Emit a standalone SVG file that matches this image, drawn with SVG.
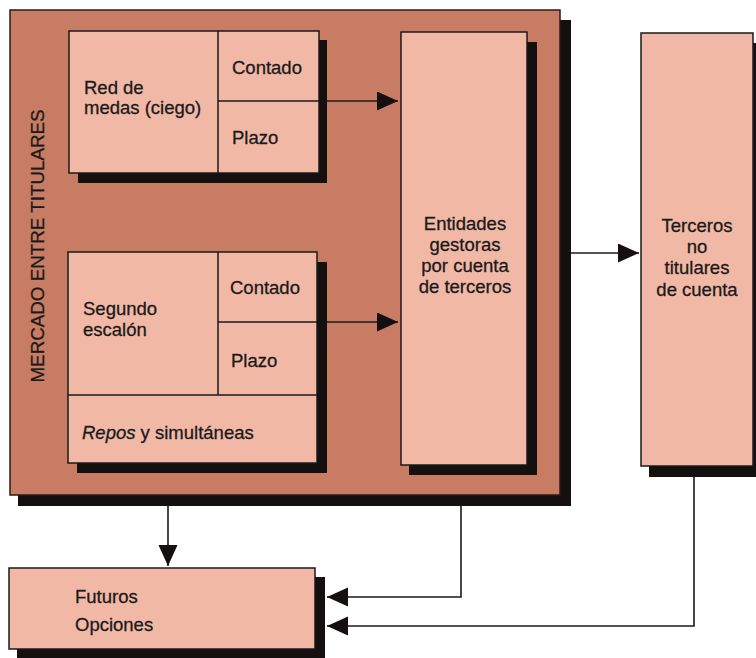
<svg xmlns="http://www.w3.org/2000/svg" width="756" height="658" viewBox="0 0 756 658">
<defs>
<style>
.bg{fill:#ffffff}
.outer{fill:#c97c64;stroke:#2a1a14;stroke-width:1.5}
.box{fill:#f2b8a6;stroke:#1a1a1a;stroke-width:1.5}
.shadow{fill:#141010}
.div{stroke:#1a1a1a;stroke-width:1.5;fill:none}
.con{stroke:#1a1a1a;stroke-width:1.6;fill:none}
text{font-family:"Liberation Sans",Arial,sans-serif;font-size:18.5px;fill:#1a1a1a;stroke:#1a1a1a;stroke-width:0.3}
.c{text-anchor:middle}
</style>
<marker id="ah" markerUnits="userSpaceOnUse" markerWidth="22" markerHeight="20" refX="21" refY="9.5" orient="auto">
<path d="M0,0 L21,9.5 L0,19 Z" fill="#141010"/>
</marker>
</defs>
<rect class="bg" x="0" y="0" width="756" height="658"/>

<g id="mercado">
<rect class="shadow" x="18" y="20" width="553" height="486"/>
<rect class="outer" x="10" y="10" width="550" height="485"/>
<text transform="translate(44,246) rotate(-90)" class="c" style="font-size:18.8px">MERCADO ENTRE TITULARES</text>
</g>

<g id="red-medas">
<rect class="shadow" x="78" y="40" width="249" height="143"/>
<rect class="box" x="69" y="31" width="250" height="142"/>
<line class="div" x1="218" y1="31" x2="218" y2="173"/>
<line class="div" x1="218" y1="101" x2="319" y2="101"/>
<text x="84" y="94">Red de</text>
<text x="84" y="114">medas (ciego)</text>
<text x="232" y="74">Contado</text>
<text x="232" y="144">Plazo</text>
</g>

<g id="segundo-escalon">
<rect class="shadow" x="77" y="262" width="250" height="211"/>
<rect class="box" x="68" y="252" width="249" height="211"/>
<line class="div" x1="218" y1="252" x2="218" y2="395"/>
<line class="div" x1="218" y1="322" x2="317" y2="322"/>
<line class="div" x1="68" y1="395" x2="317" y2="395"/>
<text x="83" y="315">Segundo</text>
<text x="83" y="336">escalón</text>
<text x="230" y="294">Contado</text>
<text x="231" y="367">Plazo</text>
<text x="82" y="439"><tspan font-style="italic">Repos</tspan> y simultáneas</text>
</g>

<g id="entidades">
<rect class="shadow" x="409" y="42" width="128" height="433"/>
<rect class="box" x="401" y="32" width="126" height="433"/>
<text class="c" x="465" y="230">Entidades</text>
<text class="c" x="465" y="251">gestoras</text>
<text class="c" x="465" y="272">por cuenta</text>
<text class="c" x="465" y="293">de terceros</text>
</g>

<g id="terceros">
<rect class="shadow" x="649" y="43" width="115" height="434"/>
<rect class="box" x="641" y="33" width="112" height="433"/>
<text class="c" x="697" y="232">Terceros</text>
<text class="c" x="697" y="253">no</text>
<text class="c" x="697" y="274">titulares</text>
<text class="c" x="697" y="296">de cuenta</text>
</g>

<g id="futuros">
<rect class="shadow" x="17" y="577" width="308" height="81"/>
<rect class="box" x="9" y="568" width="306" height="81"/>
<text x="75" y="603">Futuros</text>
<text x="75" y="631">Opciones</text>
</g>

<g id="connectors">
<line class="con" x1="327" y1="101" x2="398" y2="101" marker-end="url(#ah)"/>
<line class="con" x1="327" y1="322" x2="398" y2="322" marker-end="url(#ah)"/>
<line class="con" x1="571" y1="253" x2="639" y2="253" marker-end="url(#ah)"/>
<line class="con" x1="168" y1="506" x2="168" y2="566" marker-end="url(#ah)"/>
<polyline class="con" points="461,506 461,597 327,597" marker-end="url(#ah)"/>
<polyline class="con" points="694,477 694,626 327,626" marker-end="url(#ah)"/>
</g>
</svg>
